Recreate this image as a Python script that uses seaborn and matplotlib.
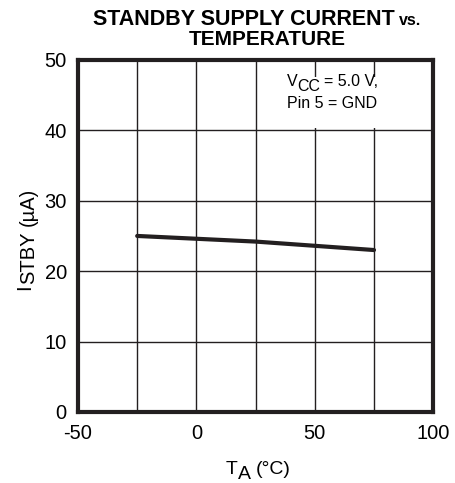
import matplotlib
matplotlib.use('Agg')
import matplotlib.pyplot as plt
from matplotlib.transforms import IdentityTransform
from matplotlib.patches import Rectangle
import seaborn as sns
import pandas as pd

# Values
temp_c = [-25, 0, 25, 50, 75]
i_stby_ua = [25.0, 24.6, 24.2, 23.6, 23.0]

x_ticks = [-50, 0, 50, 100]
y_ticks = [0, 10, 20, 30, 40, 50]
x_grid = [-25, 0, 25, 50, 75]
y_grid = [10, 20, 30, 40]

sns.set_style('white')
plt.rcParams['font.family'] = ['Liberation Sans', 'DejaVu Sans']
plt.rcParams['axes.unicode_minus'] = False
plt.rcParams['text.color'] = 'black'

df = pd.DataFrame({'T': temp_c, 'I': i_stby_ua})

fig = plt.figure(figsize=(4.56, 4.83), dpi=100)
ax = fig.add_axes([0.171, 0.147, 0.779, 0.729])

for g in x_grid:
    ax.axvline(g, color='#231f20', lw=1.0, zorder=1)
for g in y_grid:
    ax.axhline(g, color='#231f20', lw=1.0, zorder=1)

sns.lineplot(data=df, x='T', y='I', ax=ax, color='#231f20', lw=3.0, zorder=3)

ax.set_xlim(-50, 100)
ax.set_ylim(0, 50)
ax.set_xticks(x_ticks)
ax.set_yticks(y_ticks)
ax.tick_params(axis='x', length=0, labelsize=14.5, pad=9, colors='black')
ax.tick_params(axis='y', length=0, labelsize=14.5, pad=8, colors='black')
ax.set_xlabel('')
ax.set_ylabel('')
for s in ax.spines.values():
    s.set_visible(True)
    s.set_linewidth(3)
    s.set_color('#231f20')

fig.canvas.draw()
r = fig.canvas.get_renderer()


def compose(x, y, pieces, rotation=0, center=True):
    # pieces: (text, size, weight, baseline shift px, gap before px)
    texts, lengths = [], []
    for s, size, weight, shift, gap in pieces:
        t = fig.text(0, 0, s, fontsize=size, fontweight=weight, color='black',
                     transform=IdentityTransform(), rotation=rotation,
                     rotation_mode='anchor', ha='left', va='baseline')
        bb = t.get_window_extent(r)
        lengths.append(bb.height if rotation == 90 else bb.width)
        texts.append(t)
    total = sum(lengths) + sum(p[4] for p in pieces)
    along = y if rotation == 90 else x
    pos = along - total / 2 if center else along
    for t, ln, p in zip(texts, lengths, pieces):
        pos += p[4]
        if rotation == 90:
            t.set_position((x - p[3], pos))
        else:
            t.set_position((pos, y + p[3]))
        pos += ln


H = 483
# title
compose(257.5, H - 25, [('STANDBY SUPPLY CURRENT', 15.5, 'bold', 0, 0),
                        ('vs.', 11.5, 'bold', 0, 4.3)])
compose(267, H - 45, [('TEMPERATURE', 15, 'bold', 0, 0)])

# axis labels
compose(258.5, H - 474, [('T', 14, 'normal', 0, 0), ('A', 14, 'normal', -5, 0),
                         ('(°C)', 14, 'normal', 0, 5.4)])
compose(34, H - 239, [('I', 14.5, 'normal', 4, 0), ('STBY', 14.5, 'normal', 0, 0),
                      ('(µA)', 14.5, 'normal', 0, 5.6)], rotation=90)

# condition note on a white patch that hides the grid
fig.patches.append(Rectangle((281, H - 128), 116, 51, transform=IdentityTransform(),
                             facecolor='white', edgecolor='none', zorder=2))
compose(287, H - 86, [('V', 11.5, 'normal', 0, 0), ('CC', 11.5, 'normal', -5, -0.5),
                      ('= 5.0 V,', 11.5, 'normal', 0, 3.8)], center=False)
compose(287, H - 108, [('Pin 5 = GND', 11.5, 'normal', 0, 0)], center=False)

plt.savefig('out.png', dpi=100)
